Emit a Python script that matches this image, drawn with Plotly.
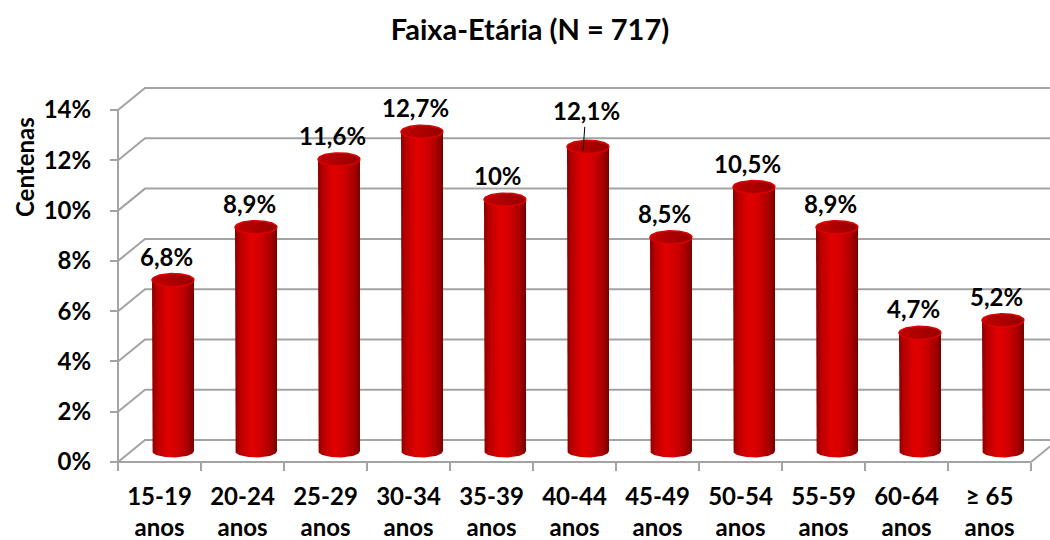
import numpy as np
import plotly.graph_objects as go

# ---- data ----
categories = ["15-19<br>anos", "20-24<br>anos", "25-29<br>anos", "30-34<br>anos",
              "35-39<br>anos", "40-44<br>anos", "45-49<br>anos", "50-54<br>anos",
              "55-59<br>anos", "60-64<br>anos", "≥ 65<br>anos"]
values = [6.8, 8.9, 11.6, 12.7, 10.0, 12.1, 8.5, 10.5, 8.9, 4.7, 5.2]
value_labels = ["6,8%", "8,9%", "11,6%", "12,7%", "10%", "12,1%", "8,5%",
                "10,5%", "8,9%", "4,7%", "5,2%"]
y_ticks = [0, 2, 4, 6, 8, 10, 12, 14]
y_tick_labels = ["0%", "2%", "4%", "6%", "8%", "10%", "12%", "14%"]
title_text = "Faixa-Etária (N = 717)"
y_title = "Centenas"

# ---- geometry (pixel scale of the axes) ----
W, H = 1050, 540
PX_X = 83.0          # px per category
PX_Y = 25.14         # px per 1 %
DX = 27 / PX_X       # depth offset (x) in data units
DY = 22 / PX_Y       # depth offset (y) in data units
RX = 21 / PX_X       # cylinder radius
RY = 6.5 / PX_Y      # ellipse vertical radius

ML, MT = 116, 80
plot_bottom_px = 465
MB = H - plot_bottom_px
plot_w = W - ML
plot_h = plot_bottom_px - MT
x0 = -0.5 - 2 / PX_X
x_range = [x0, x0 + plot_w / PX_X]
y_lo = -3 / PX_Y
y_range = [y_lo, y_lo + plot_h / PX_Y]

n = len(values)
fig = go.Figure()

grid_col = "#a3a3a3"
shapes = []
for v in y_ticks:
    shapes.append(dict(type="path", layer="below",
                       path=f"M {-0.5},{v} L {-0.5 + DX},{v + DY} L {n - 0.5 + DX + 1},{v + DY}",
                       line=dict(color=grid_col, width=2), xref="x", yref="y"))
# floor front edge, right edge, front y-axis line
shapes.append(dict(type="line", layer="below", x0=-0.5, y0=0, x1=n - 0.5, y1=0,
                   line=dict(color=grid_col, width=2), xref="x", yref="y"))
shapes.append(dict(type="line", layer="below", x0=n - 0.5, y0=0, x1=n - 0.5 + DX, y1=DY,
                   line=dict(color=grid_col, width=2), xref="x", yref="y"))
shapes.append(dict(type="line", layer="below", x0=-0.5, y0=0, x1=-0.5, y1=y_ticks[-1],
                   line=dict(color=grid_col, width=2), xref="x", yref="y"))

body_scale = [[0.0, "#8a0000"], [0.12, "#b80000"], [0.38, "#e20000"],
              [0.62, "#d00000"], [0.85, "#a80000"], [1.0, "#760000"]]
cap_scale = [[0.0, "#c00000"], [0.5, "#ac0000"], [1.0, "#960000"]]

t_low = np.linspace(np.pi, 2 * np.pi, 40)
t_full = np.linspace(0, 2 * np.pi, 80)
for i, v in enumerate(values):
    xc = i + DX / 2
    yb = DY / 2
    yt = v + DY / 2
    bx = [xc - RX, xc - RX] + list(xc + RX * np.cos(t_low)) + [xc + RX, xc - RX]
    by = [yt, yb] + list(yb + RY * np.sin(t_low)) + [yt, yt]
    fig.add_trace(go.Scatter(x=bx, y=by, mode="lines", fill="toself",
                             line=dict(width=0, color="#8e0000"),
                             fillgradient=dict(type="horizontal", colorscale=body_scale),
                             hoverinfo="skip", showlegend=False))
    cx = list(xc + RX * np.cos(t_full))
    cy = list(yt + RY * np.sin(t_full))
    fig.add_trace(go.Scatter(x=cx, y=cy, mode="lines", fill="toself",
                             line=dict(width=1.5, color="#dd0000"),
                             fillgradient=dict(type="horizontal", colorscale=cap_scale),
                             hoverinfo="skip", showlegend=False))

font_family = "Lato"
lab_font = dict(family=font_family, size=24, color="black", weight="bold")
annotations = []
for i, (v, lab) in enumerate(zip(values, value_labels)):
    xc = i + DX / 2
    if lab == "12,1%":
        annotations.append(dict(x=xc - 5 / PX_X, y=v + DY / 2 - 4 / PX_Y, xref="x", yref="y",
                                text=lab, showarrow=True, arrowhead=0, arrowwidth=1,
                                arrowcolor="black", ax=3, ay=-40, standoff=0, font=lab_font))
    else:
        annotations.append(dict(x=xc - 7 / PX_X, y=v + DY / 2, xref="x", yref="y",
                                text=lab, showarrow=False, yshift=24, font=lab_font))

annotations.append(dict(x=(24 - ML) / plot_w, y=(plot_bottom_px - 167) / plot_h,
                        xref="paper", yref="paper", text=y_title, textangle=-90,
                        showarrow=False, xanchor="center", yanchor="middle",
                        font=dict(family=font_family, size=24, color="black", weight="bold")))

fig.update_layout(
    width=W, height=H,
    margin=dict(l=ML, r=0, t=MT, b=MB),
    paper_bgcolor="white", plot_bgcolor="white",
    title=dict(text=title_text, x=530 / W, xref="container", xanchor="center",
               y=1 - 30 / H, yref="container", yanchor="middle",
               font=dict(family=font_family, size=29, color="black", weight="bold")),
    shapes=shapes,
    annotations=annotations,
    xaxis=dict(range=x_range, showgrid=False, zeroline=False, showline=False,
               tickmode="array", tickvals=list(range(n)), ticktext=categories,
               ticks="", anchor="free", position=(plot_bottom_px - 462) / plot_h,
               tickfont=dict(family=font_family, size=24, color="black", weight="bold"),
               ticklabelstandoff=18,
               minor=dict(tickmode="array", tickvals=[k - 0.5 for k in range(n + 1)],
                          ticks="outside", ticklen=8, tickwidth=2, tickcolor=grid_col,
                          showgrid=False)),
    yaxis=dict(range=y_range, showgrid=False, zeroline=False, showline=False,
               tickmode="array", tickvals=y_ticks, ticktext=y_tick_labels,
               ticks="outside", ticklen=8, tickwidth=2, tickcolor=grid_col,
               anchor="free", position=2 / plot_w,
               tickfont=dict(family=font_family, size=24, color="black", weight="bold"),
               ticklabelstandoff=14),
)

fig.write_html("out.html", config={"displayModeBar": False},
               post_script="document.body.style.margin='0';document.body.style.overflow='hidden';")
